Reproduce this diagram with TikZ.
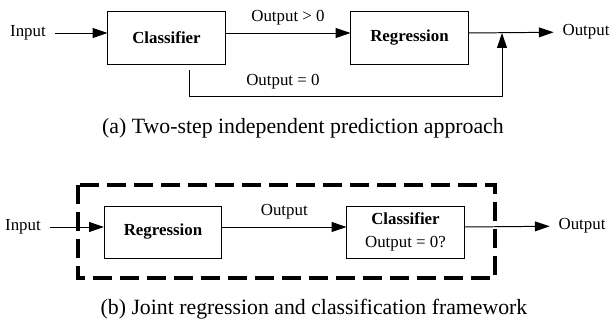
\documentclass[tikz,border=0pt]{standalone}
\usepackage{fontspec}
\setmainfont{Liberation Serif}
\usetikzlibrary{arrows.meta}

\begin{document}
\begin{tikzpicture}[x=0.025cm, y=-0.025cm, font=\fontsize{12}{14}\selectfont,
  >={Triangle[length=10.5pt, width=7pt]}, line width=0.7pt,
  box/.style={draw, minimum width=2.925cm, minimum height=1.3cm, inner sep=2pt},
  io/.style={inner sep=6pt},
  captext/.style={font=\fontsize{15.5}{18}\selectfont},
  dashbox/.style={line width=2.4pt, dash pattern=on 13.5pt off 5.7pt}]
\useasboundingbox (0,0) rectangle (610,320);
% (a) two-step
\node [box] (cls) at (166.5,38) {\textbf{Classifier}};
\node [box] (reg) at (409.5,38) {\textbf{Regression}};
\node [io] (in) at (28,33) {Input};
\node [io] (out) at (586,32) {Output};
\coordinate (j) at (502,33);
\coordinate (jb) at (502,96);
\coordinate (c0) at (189,70);
\draw [->] (in) -- (in -| cls.west);
\draw [->] (cls.east |- in) -- node [above=2pt] {Output > 0} (reg.west |- in);
\draw [->] (reg.east |- in) -- (out);
\draw [->] (c0) |- node [pos=0.65, above=1pt] {Output = 0} (jb) -- (j);
\node [captext] (capa) at (303,128) {(a) Two-step independent prediction approach};
% (b) joint
\node [box] (reg2) at (163,232) {\textbf{Regression}};
\node [box, align=center] (cls2) at (405.5,232) {\textbf{Classifier}\\[2pt]Output = 0?};
\node [io] (in2) at (23,227) {Input};
\node [io] (out2) at (582,226) {Output};
\draw [->] (in2) -- (in2 -| reg2.west);
\draw [->] (reg2.east |- in2) -- node [above=2pt] {Output} (cls2.west |- in2);
\draw [->] (cls2.east |- in2) -- (out2);
\draw [dashbox] (78,185) rectangle (495,278);
\node [captext] (capb) at (314,309) {(b) Joint regression and classification framework};
\end{tikzpicture}
\end{document}
